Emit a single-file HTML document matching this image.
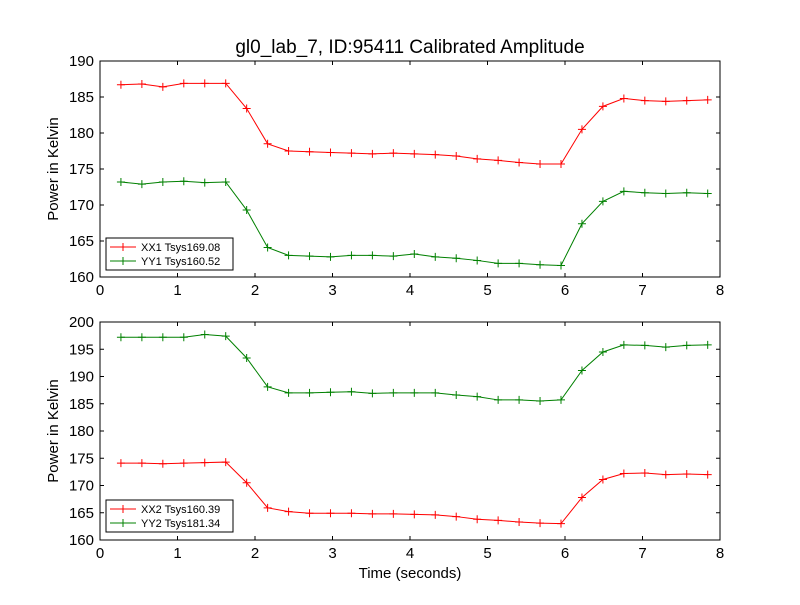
<!DOCTYPE html>
<html><head><meta charset="utf-8"><style>body{margin:0;background:#fff}svg{font-family:"Liberation Sans","DejaVu Sans",sans-serif}</style></head>
<body>
<svg id="c" width="800" height="600"></svg>
<script>
const xStart=0.27, xStep=0.2704;
const xx1=[186.7,186.8,186.4,186.9,186.9,186.9,183.4,178.5,177.5,177.4,177.3,177.2,177.1,177.2,177.1,177.0,176.8,176.4,176.2,175.9,175.7,175.7,180.5,183.7,184.8,184.5,184.4,184.5,184.6];
const yy1=[173.2,172.9,173.2,173.3,173.1,173.2,169.3,164.1,163.0,162.9,162.8,163.0,163.0,162.9,163.2,162.8,162.6,162.3,161.9,161.9,161.7,161.6,167.4,170.5,171.9,171.7,171.6,171.7,171.6];
const xx2=[174.1,174.1,174.0,174.1,174.2,174.3,170.5,165.9,165.2,164.9,164.9,164.9,164.8,164.8,164.7,164.6,164.3,163.8,163.6,163.3,163.1,163.0,167.8,171.1,172.2,172.3,172.0,172.1,172.0];
const yy2=[197.2,197.2,197.2,197.2,197.7,197.4,193.4,188.1,187.0,187.0,187.1,187.2,186.9,187.0,187.0,187.0,186.6,186.3,185.7,185.7,185.5,185.7,191.1,194.5,195.8,195.7,195.4,195.7,195.8];
const xTicks=[0,1,2,3,4,5,6,7,8];
const yTicksTop=[160,165,170,175,180,185,190];
const yTicksBot=[160,165,170,175,180,185,190,195,200];
const svg=document.getElementById('c');const NS='http://www.w3.org/2000/svg';
function el(t,a,p){const e=document.createElementNS(NS,t);for(const k in a)e.setAttribute(k,a[k]);(p||svg).appendChild(e);return e;}
function panel(name,top,bot,ymin,ymax,yTicks,series,legendY){
  const L=100,R=720;
  const g=el('g',{});
  const xs=v=>L+(v/8)*(R-L), ys=v=>bot-(v-ymin)/(ymax-ymin)*(bot-top);
  series.forEach(s=>{
    const pts=s.d.map((v,i)=>[xs(xStart+i*xStep),ys(v)]);
    const pl=el('polyline',{points:pts.map(p=>p.join(',')).join(' '),fill:'none',stroke:s.c,'stroke-width':1},g);
    
    pts.forEach(p=>{const m=el('path',{d:`M${p[0]-4},${p[1]}h8M${p[0]},${p[1]-4}v8`,stroke:s.c,'stroke-width':1},g);});
  });
  const fr=el('rect',{x:L,y:top,width:R-L,height:bot-top,fill:'none',stroke:'#000','stroke-width':1},g);
  
  xTicks.forEach(t=>{const x=xs(t);el('path',{d:`M${x},${bot}v-4M${x},${top}v4`,stroke:'#000'},g);
    const tx=el('text',{x:x,y:bot+18,'text-anchor':'middle','font-size':15},g);tx.textContent=t;});
  yTicks.forEach(t=>{const y=ys(t);el('path',{d:`M${L},${y}h4M${R},${y}h-4`,stroke:'#000'},g);
    const tx=el('text',{x:L-6,y:y+5,'text-anchor':'end','font-size':15},g);tx.textContent=t;});
  const yt=el('text',{x:58,y:(top+bot)/2,'text-anchor':'middle','font-size':15,transform:`rotate(-90 58 ${(top+bot)/2})`},g);
  yt.textContent='Power in Kelvin';
  const lg=el('g',{},g);
  const w=series[0].label.length>16?166:127;
  el('rect',{x:106,y:legendY,width:w,height:32,fill:'#fff',stroke:'#000'},lg);
  series.forEach((s,i)=>{const y=legendY+9+i*14;
    el('path',{d:`M110,${y}h26M123,${y-4}v8`,stroke:s.c},lg);
    const tx=el('text',{x:141,y:y+4,'font-size':11},lg);tx.textContent=s.label;});
}
panel('top-panel',61,277,160,190,yTicksTop,[{n:'xx1',d:xx1,c:'#ff0000',label:'XX1 Tsys169.08'},{n:'yy1',d:yy1,c:'#008000',label:'YY1 Tsys160.52'}],238);
panel('bottom-panel',322,540,160,200,yTicksBot,[{n:'xx2',d:xx2,c:'#ff0000',label:'XX2 Tsys160.39'},{n:'yy2',d:yy2,c:'#008000',label:'YY2 Tsys181.34'}],500);
const t=el('text',{x:410,y:53,'text-anchor':'middle','font-size':19});t.textContent='gl0_lab_7, ID:95411 Calibrated Amplitude';

const xl=el('text',{x:410,y:578,'text-anchor':'middle','font-size':15});xl.textContent='Time (seconds)';

</script>
</body></html>
